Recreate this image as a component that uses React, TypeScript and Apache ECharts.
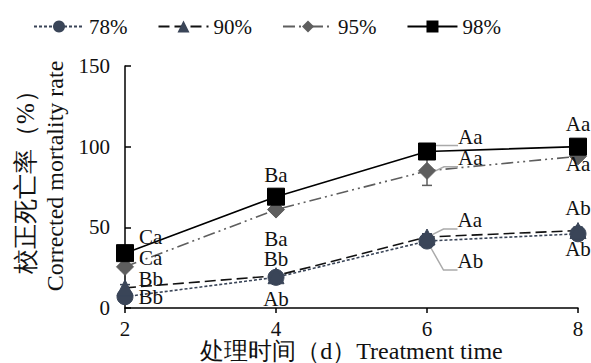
import React, { useEffect, useRef } from "react";
import * as echarts from "echarts";

const days = [2, 4, 6, 8];
const names = ["78%", "90%", "95%", "98%"];
const v78 = [7, 19, 41.5, 46];
const v90 = [12.5, 20, 44, 48];
const v95 = [25.5, 61, 85, 94];
const v98 = [34, 69, 97, 100];
const e78 = [2, 2, 3, 2];
const e90 = [2, 2, 2, 2];
const e95 = [2, 2, 9, 2];
const e98 = [2, 2, 2, 2];
const l78 = ["Bb", "Ab", "Ab", "Ab"];
const l90 = ["Bb", "Bb", "Aa", "Ab"];
const l95 = ["Ca", "Ba", "Aa", "Aa"];
const l98 = ["Ca", "Ba", "Aa", "Aa"];
const yTicks = [0, 50, 100, 150];
const yNameCn = "校正死亡率（%）";
const yNameEn = "Corrected mortality rate";
const xName = "处理时间（d）Treatment time";

const FONT = '"Liberation Serif", "Times New Roman", serif';

type Place = { position: string; offset?: number[]; distance?: number; leader?: boolean };

const place78: Place[] = [
  { position: "right", offset: [0, 0] },
  { position: "bottom", distance: 4 },
  { position: "right", offset: [17, 20], leader: true },
  { position: "bottom", distance: -2 },
];
const place90: Place[] = [
  { position: "right", offset: [0, -9] },
  { position: "top", distance: -1 },
  { position: "right", offset: [17, -17], leader: true },
  { position: "top", distance: 5 },
];
const place95: Place[] = [
  { position: "right", offset: [0, -9] },
  { position: "bottom", distance: 11 },
  { position: "right", offset: [17, -13], leader: true },
  { position: "bottom", distance: -10 },
];
const place98: Place[] = [
  { position: "right", offset: [0, -16] },
  { position: "top", distance: 4 },
  { position: "right", offset: [17, -15], leader: true },
  { position: "top", distance: 5 },
];

function buildData(vals: number[], labels: string[], places: Place[]) {
  return days.map((d, i) => {
    const p = places[i];
    return {
      value: [d, vals[i]],
      label: {
        show: true,
        formatter: labels[i],
        position: p.position,
        offset: p.offset || [0, 0],
        distance: p.distance ?? 5,
      },
      labelLine: p.leader
        ? { show: true, length2: 14, lineStyle: { color: "#aaaaaa", width: 1.5 } }
        : { show: false },
    };
  });
}

function errSeries(vals: number[], errs: number[], color: string) {
  return {
    type: "custom",
    silent: true,
    z: 1,
    data: days.map((d, i) => [d, vals[i], errs[i]]),
    renderItem: (params: any, api: any) => {
      const x = api.value(0);
      const y = api.value(1);
      const e = api.value(2);
      const top = api.coord([x, y + e]);
      const bot = api.coord([x, y - e]);
      const cap = 5;
      return {
        type: "group",
        children: [
          { type: "line", shape: { x1: top[0], y1: top[1], x2: bot[0], y2: bot[1] }, style: { stroke: color, lineWidth: 1.5 } },
          { type: "line", shape: { x1: top[0] - cap, y1: top[1], x2: top[0] + cap, y2: top[1] }, style: { stroke: color, lineWidth: 1.5 } },
          { type: "line", shape: { x1: bot[0] - cap, y1: bot[1], x2: bot[0] + cap, y2: bot[1] }, style: { stroke: color, lineWidth: 1.5 } },
        ],
      };
    },
  };
}

export default function App() {
  const ref = useRef<HTMLDivElement>(null);
  useEffect(() => {
    if (!ref.current) return;
    const chart = echarts.init(ref.current, undefined, { renderer: "svg" });
    const labelStyle = { fontFamily: FONT, fontSize: 21, lineHeight: 18, color: "#111" };
    const slate = "#3a4558";
    const mk = (
      name: string,
      vals: number[],
      labels: string[],
      places: Place[],
      symbol: string,
      symbolSize: number,
      symColor: string,
      lineColor: string,
      lineType: any
    ) => ({
      name,
      type: "line",
      z: 3,
      symbol,
      symbolSize,
      showAllSymbol: true,
      itemStyle: { color: symColor, borderColor: symColor },
      lineStyle: { color: lineColor, width: 1.6, type: lineType },
      label: { ...labelStyle },
      labelLine: { show: false },
      data: buildData(vals, labels, places),
    });
    chart.setOption({
      animation: false,
      backgroundColor: "#fff",
      textStyle: { fontFamily: FONT },
      legend: {
        top: 11,
        left: 28,
        itemWidth: 50,
        itemHeight: 15,
        itemGap: 30,
        textStyle: { fontFamily: FONT, fontSize: 21, color: "#111" },
        data: names,
      },
      grid: { left: 125, right: 13, top: 66, bottom: 55, outerBoundsMode: "none", containLabel: false },
      xAxis: {
        type: "value",
        min: 2,
        max: 8,
        interval: 2,
        name: xName,
        nameLocation: "middle",
        nameGap: 31,
        nameMoveOverlap: false,
        nameTextStyle: { fontFamily: FONT, fontSize: 24, color: "#111" },
        axisLine: { lineStyle: { color: "#000", width: 1.5 } },
        axisTick: { show: true, inside: false, length: 5, lineStyle: { color: "#000", width: 1.5 } },
        axisLabel: { fontFamily: FONT, fontSize: 21, color: "#111", margin: 10 },
        splitLine: { show: false },
      },
      yAxis: {
        type: "value",
        min: yTicks[0],
        max: yTicks[yTicks.length - 1],
        interval: 50,
        name: "{cn|" + yNameCn + "}\n{en|" + yNameEn + "}",
        nameLocation: "middle",
        nameRotate: 90,
        nameGap: 56,
        nameMoveOverlap: false,
        nameTextStyle: {
          fontFamily: FONT,
          fontSize: 24,
          color: "#111",
          padding: [0, 0, 0, 22],
          rich: {
            cn: { fontFamily: FONT, fontSize: 25, lineHeight: 29, color: "#111" },
            en: { fontFamily: FONT, fontSize: 24, lineHeight: 29, color: "#111" },
          },
        },
        axisLine: { show: true, lineStyle: { color: "#000", width: 1.5 } },
        axisTick: { show: true, inside: true, length: 6, lineStyle: { color: "#000", width: 1.5 } },
        axisLabel: { fontFamily: FONT, fontSize: 21, color: "#111", margin: 15 },
        splitLine: { show: false },
      },
      series: [
        errSeries(v78, e78, slate),
        errSeries(v90, e90, slate),
        errSeries(v95, e95, "#5e5e5e"),
        errSeries(v98, e98, "#000"),
        mk("78%", v78, l78, place78, "circle", 16, slate, slate, [3, 2]),
        mk("90%", v90, l90, place90, "triangle", 16, slate, "#111", [11, 5]),
        mk("95%", v95, l95, place95, "diamond", 17, "#5e5e5e", "#5e5e5e", [12, 4, 2, 4, 2, 4]),
        mk("98%", v98, l98, place98, "rect", 17, "#000", "#000", "solid"),
      ],
    });
    return () => chart.dispose();
  }, []);
  return <div ref={ref} style={{ width: 591, height: 363, position: "absolute", left: 0, top: 0 }} />;
}
